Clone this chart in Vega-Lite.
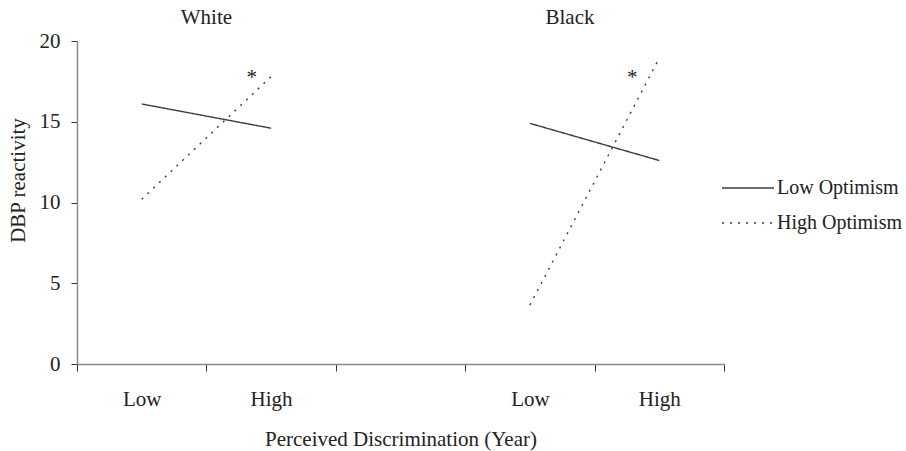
{
  "$schema": "https://vega.github.io/schema/vega-lite/v6.json",
  "width": 647,
  "height": 323,
  "autosize": {"type": "none"},
  "padding": {"left": 77, "top": 41, "right": 182, "bottom": 87},
  "background": "white",
  "config": {
    "view": {"stroke": null},
    "font": "Liberation Serif",
    "text": {"font": "Liberation Serif", "fontSize": 21, "color": "#222222"}
  },
  "datasets": {
    "lines": [
      {"race": "White", "cat": "W-Low", "optimism": "Low Optimism", "dbp": 16.1},
      {"race": "White", "cat": "W-High", "optimism": "Low Optimism", "dbp": 14.6},
      {"race": "White", "cat": "W-Low", "optimism": "High Optimism", "dbp": 10.2},
      {"race": "White", "cat": "W-High", "optimism": "High Optimism", "dbp": 17.8},
      {"race": "Black", "cat": "B-Low", "optimism": "Low Optimism", "dbp": 14.9},
      {"race": "Black", "cat": "B-High", "optimism": "Low Optimism", "dbp": 12.6},
      {"race": "Black", "cat": "B-Low", "optimism": "High Optimism", "dbp": 3.65},
      {"race": "Black", "cat": "B-High", "optimism": "High Optimism", "dbp": 18.95}
    ]
  },
  "layer": [
    {
      "data": {"name": "lines"},
      "mark": {"type": "line", "color": "#3c3c3c", "strokeWidth": 1.4},
      "encoding": {
        "x": {
          "field": "cat",
          "type": "nominal",
          "bandPosition": 0.5,
          "scale": {"type": "band", "domain": ["W-Low", "W-High", "gap", "B-Low", "B-High"], "paddingInner": 0, "paddingOuter": 0},
          "axis": {
            "title": "Perceived Discrimination (Year)",
            "labelExpr": "(datum.value == 'W-Low' || datum.value == 'B-Low') ? 'Low' : ((datum.value == 'W-High' || datum.value == 'B-High') ? 'High' : '')",
            "labelAngle": 0,
            "labelFont": "Liberation Serif",
            "labelFontSize": 21,
            "labelColor": "#222222",
            "labelPadding": 17,
            "tickBand": "extent",
            "tickSize": 7,
            "tickColor": "#333333",
            "domainColor": "#8a8a8a",
            "domainWidth": 1.5,
            "titleFont": "Liberation Serif",
            "titleFontSize": 21,
            "titleFontWeight": "normal",
            "titleColor": "#222222",
            "titleBaseline": "middle",
            "titleY": 75,
            "grid": false
          }
        },
        "y": {
          "field": "dbp",
          "type": "quantitative",
          "scale": {"domain": [0, 20], "nice": false},
          "axis": {
            "title": "DBP reactivity",
            "values": [0, 5, 10, 15, 20],
            "labelFont": "Liberation Serif",
            "labelFontSize": 21,
            "labelColor": "#222222",
            "labelPadding": 11,
            "tickSize": 6,
            "tickColor": "#333333",
            "domainColor": "#8a8a8a",
            "domainWidth": 1.5,
            "titleFont": "Liberation Serif",
            "titleFontSize": 21,
            "titleFontWeight": "normal",
            "titleColor": "#222222",
            "titleAngle": -90,
            "titleAlign": "center",
            "titleBaseline": "middle",
            "titleX": -59,
            "titleY": 139,
            "grid": false
          }
        },
        "detail": {"field": "race", "type": "nominal"},
        "strokeDash": {
          "field": "optimism",
          "type": "nominal",
          "scale": {"domain": ["Low Optimism", "High Optimism"], "range": [[1, 0], [2, 6]]},
          "legend": {
            "title": null,
            "orient": "none",
            "legendX": 660,
            "legendY": 136,
            "padding": 0,
            "symbolType": "M-2.6,0H2.6",
            "symbolSize": 400,
            "symbolStrokeColor": "#3c3c3c",
            "symbolStrokeWidth": 1.4,
            "symbolFillColor": "transparent",
            "labelFont": "Liberation Serif",
            "labelFontSize": 20,
            "labelColor": "#222222",
            "labelOffset": 18,
            "labelLimit": 0,
            "rowPadding": 14
          }
        }
      }
    },
    {
      "data": {"values": [{"cat": "W-Low", "y": 21.4, "label": "White"}]},
      "mark": {"type": "text", "baseline": "middle", "align": "center"},
      "encoding": {
        "x": {"field": "cat", "type": "nominal", "bandPosition": 1},
        "y": {"field": "y", "type": "quantitative"},
        "text": {"field": "label"}
      }
    },
    {
      "data": {"values": [{"cat": "B-Low", "y": 21.4, "label": "Black"}]},
      "mark": {"type": "text", "baseline": "middle", "align": "center"},
      "encoding": {
        "x": {"field": "cat", "type": "nominal", "bandPosition": 0.81},
        "y": {"field": "y", "type": "quantitative"},
        "text": {"field": "label"}
      }
    },
    {
      "data": {"values": [{"cat": "W-High", "y": 17.7, "label": "*"}]},
      "mark": {"type": "text", "baseline": "middle", "align": "center"},
      "encoding": {
        "x": {"field": "cat", "type": "nominal", "bandPosition": 0.35},
        "y": {"field": "y", "type": "quantitative"},
        "text": {"field": "label"}
      }
    },
    {
      "data": {"values": [{"cat": "B-High", "y": 17.7, "label": "*"}]},
      "mark": {"type": "text", "baseline": "middle", "align": "center"},
      "encoding": {
        "x": {"field": "cat", "type": "nominal", "bandPosition": 0.29},
        "y": {"field": "y", "type": "quantitative"},
        "text": {"field": "label"}
      }
    }
  ]
}
